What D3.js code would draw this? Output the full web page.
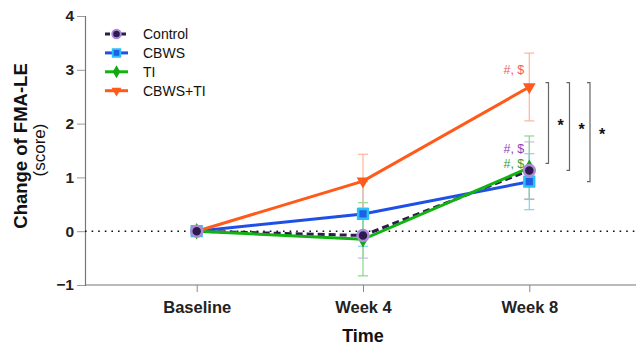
<!DOCTYPE html>
<html><head><meta charset="utf-8">
<script src="https://cdn.jsdelivr.net/npm/d3@7"></script>
<style>body{margin:0;background:#fff}svg{display:block;font-family:"Liberation Sans",Arial,sans-serif}</style>
</head><body>
<svg id="c" width="638" height="347"></svg>
<script>
const categories = ["Baseline", "Week 4", "Week 8"];
const seriesNames = ["Control", "CBWS", "TI", "CBWS+TI"];
const controlMean = [0, -0.08, 1.13];
const controlErr = [0, 0.42, 0.53];
const cbwsMean = [0, 0.32, 0.92];
const cbwsErr = [0, 0.60, 0.52];
const tiMean = [0, -0.15, 1.18];
const tiErr = [0, 0.68, 0.59];
const cbwstiMean = [0, 0.93, 2.68];
const cbwstiErr = [0, 0.50, 0.63];
const yTicks = [-1, 0, 1, 2, 3, 4];
const annotations = [
  {series: "CBWS+TI", text: "#, $", value: 3.01},
  {series: "Control", text: "#, $", value: 1.54},
  {series: "TI", text: "#, $", value: 1.26}
];
const brackets = [{top: 2.76, bottom: 1.26}, {top: 2.76, bottom: 1.13}, {top: 2.76, bottom: 0.92}];

const styles = {
  "Control": {line: "#2e1a4f", err: "#c9b8e6", fill: "#2e1a4f", stroke: "#a98bd6", dash: "7,4", sym: d3.symbolCircle, ann: "#9340b8"},
  "CBWS": {line: "#1f4fe6", err: "#7fd3f5", fill: "#1f5fe6", stroke: "#2bc0f5", dash: null, sym: d3.symbolSquare, ann: null},
  "TI": {line: "#11b311", err: "#86d986", fill: "#11a811", stroke: "#11a811", dash: null, sym: d3.symbolDiamond, ann: "#2e9e3a"},
  "CBWS+TI": {line: "#ff5a1a", err: "#ffb49a", fill: "#ff5a1a", stroke: "#ff5a1a", dash: null, sym: d3.symbolTriangle, ann: "#f25a5a"}
};
const data = [
  {name: "Control", mean: controlMean, err: controlErr},
  {name: "CBWS", mean: cbwsMean, err: cbwsErr},
  {name: "TI", mean: tiMean, err: tiErr},
  {name: "CBWS+TI", mean: cbwstiMean, err: cbwstiErr}
];

const svg = d3.select("#c");
const x = d3.scalePoint().domain(categories).range([196.7, 529.3]);
const y = d3.scaleLinear().domain([-1, 4]).range([285, 16]);
const axisLeft = 85, axisRight = 636;

// Y axis
const ya = svg.append("g").attr("transform", `translate(${axisLeft},0)`)
  .call(d3.axisLeft(y).tickValues(yTicks).tickSize(8).tickFormat(d3.format("d")));
ya.select(".domain").attr("stroke", "#777").attr("stroke-width", 1.2);
ya.selectAll(".tick line").attr("stroke", "#999");
ya.selectAll(".tick text").attr("font-size", 15.5).attr("font-weight", "bold").attr("fill", "#222").attr("x", -11).attr("font-family", "Liberation Sans, Arial");

// X axis
svg.append("line").attr("x1", axisLeft).attr("x2", axisRight).attr("y1", y(-1)).attr("y2", y(-1)).attr("stroke", "#777").attr("stroke-width", 1.2);
const xa = svg.append("g").attr("transform", `translate(0,${y(-1)})`)
  .call(d3.axisBottom(x).tickSize(7));
xa.select(".domain").remove();
xa.selectAll(".tick line").attr("stroke", "#888");
xa.selectAll(".tick text").attr("font-size", 16.5).attr("font-weight", "bold").attr("fill", "#222").attr("y", 28).attr("dy", null).attr("font-family", "Liberation Sans, Arial");

// Axis titles
svg.append("text").attr("x", 363).attr("y", 342).attr("text-anchor", "middle").attr("font-size", 18).attr("font-weight", "bold").attr("fill", "#111").text("Time");
svg.append("text").attr("transform", "translate(27,146) rotate(-90)").attr("text-anchor", "middle").attr("font-size", 18.5).attr("font-weight", "bold").attr("fill", "#111").text("Change of FMA-LE");
svg.append("text").attr("transform", "translate(45,150) rotate(-90)").attr("text-anchor", "middle").attr("font-size", 17).attr("fill", "#111").text("(score)");

// zero dotted line
svg.append("line").attr("x1", axisLeft).attr("x2", axisRight).attr("y1", y(0)).attr("y2", y(0))
  .attr("stroke", "#111").attr("stroke-width", 1.6).attr("stroke-dasharray", "1.6,5");

// error bars
data.forEach(s => {
  const st = styles[s.name];
  const g = svg.append("g");
  categories.forEach((c, i) => {
    if (s.err[i] === 0) return;
    const cx = x(c), hi = y(s.mean[i] + s.err[i]), lo = y(s.mean[i] - s.err[i]);
    g.append("line").attr("x1", cx).attr("x2", cx).attr("y1", hi).attr("y2", lo).attr("stroke", st.err).attr("stroke-width", 1.2);
    [hi, lo].forEach(yy => g.append("line").attr("x1", cx - 5).attr("x2", cx + 5).attr("y1", yy).attr("y2", yy).attr("stroke", st.err).attr("stroke-width", 1.2));
  });
});

// lines
const line = d3.line().x((d, i) => x(categories[i])).y(d => y(d));
data.forEach(s => {
  const st = styles[s.name];
  svg.append("path").attr("d", line(s.mean)).attr("fill", "none").attr("stroke", st.line).attr("stroke-width", 3)
    .attr("stroke-dasharray", st.dash);
});

// markers
function marker(g, name, cx, cy, k) {
  const st = styles[name];
  if (name === "CBWS+TI") {
    g.append("path").attr("d", d3.symbol(st.sym, 70 * k)()).attr("transform", `translate(${cx},${cy}) rotate(180)`)
      .attr("fill", st.fill);
  } else if (name === "CBWS" || name === "Control") {
    g.append("path").attr("d", d3.symbol(st.sym, 95 * k)()).attr("transform", `translate(${cx},${cy})`)
      .attr("fill", st.fill).attr("stroke", st.stroke).attr("stroke-width", 2.5 * Math.sqrt(k));
  } else {
    g.append("path").attr("d", d3.symbol(st.sym, 80 * k)()).attr("transform", `translate(${cx},${cy})`)
      .attr("fill", st.fill);
  }
}
["TI", "CBWS", "CBWS+TI", "Control"].forEach(n => {
  const s = data.find(d => d.name === n);
  const g = svg.append("g");
  s.mean.forEach((v, i) => marker(g, n, x(categories[i]), y(v), 1));
});

// annotations
annotations.forEach(a => {
  svg.append("text").attr("x", x("Week 8") - 5).attr("y", y(a.value) + 4.5).attr("text-anchor", "end")
    .attr("font-size", 12.5).attr("fill", styles[a.series].ann).text(a.text);
});

// brackets
const bx = [548.5, 569.5, 590];
brackets.forEach((b, i) => {
  const xx = bx[i], t = y(b.top), bo = y(b.bottom);
  svg.append("path").attr("d", `M${xx - 3},${t}H${xx}V${bo}H${xx - 3}`).attr("fill", "none").attr("stroke", "#666").attr("stroke-width", 1.2);
  svg.append("text").attr("x", xx + 12).attr("y", (t + bo) / 2 + 8).attr("text-anchor", "middle").attr("font-size", 16).attr("font-weight", "bold").attr("fill", "#111").text("*");
});

// legend
const lg = svg.append("g");
seriesNames.forEach((n, i) => {
  const st = styles[n];
  const yy = 34 + i * 18.9;
  lg.append("line").attr("x1", 105).attr("x2", 128).attr("y1", yy).attr("y2", yy).attr("stroke", st.line).attr("stroke-width", 3).attr("stroke-dasharray", n === "Control" ? "5,3" : null);
  marker(lg, n, 116.5, yy, 0.6);
  lg.append("text").attr("x", 143).attr("y", yy + 5).attr("font-size", 14).attr("fill", "#111").text(n);
});
</script>
</body></html>
